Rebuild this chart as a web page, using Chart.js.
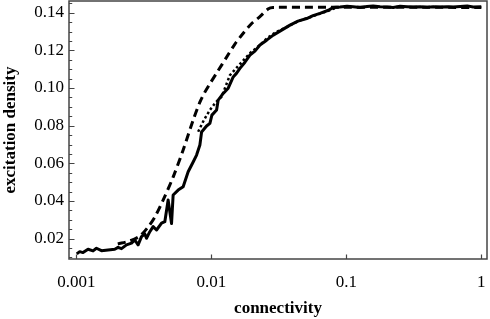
<!DOCTYPE html>
<html>
<head>
<meta charset="utf-8">
<script src="https://cdn.jsdelivr.net/npm/chart.js@4/dist/chart.umd.min.js"></script>
<style>
  html, body { margin: 0; padding: 0; background: #ffffff; }
  #wrap { width: 490px; height: 319px; }
</style>
</head>
<body>
<div id="wrap"><canvas id="c" width="490" height="319"></canvas></div>
<script>
// ---- data ----
const xTickValues = [0.001, 0.01, 0.1, 1];
const xTickLabels = ["0.001", "0.01", "0.1", "1"];
const yTickValues = [0.02, 0.04, 0.06, 0.08, 0.10, 0.12, 0.14];
const yTickLabels = ["0.02", "0.04", "0.06", "0.08", "0.10", "0.12", "0.14"];

// simulation (solid, noisy)
const solidX = [0.001005, 0.001058, 0.001119, 0.001219, 0.001328, 0.001407, 0.001533, 0.001716, 0.001924, 0.002035,
  0.002157, 0.002349, 0.002559, 0.002707, 0.002864, 0.003035, 0.003211, 0.003305, 0.003499, 0.003701,
  0.003923, 0.004272, 0.004519, 0.004781, 0.005067, 0.005207, 0.005671, 0.006178, 0.006728, 0.007328,
  0.007768, 0.008218, 0.008460, 0.009213, 0.009748, 0.010086, 0.010929, 0.011231, 0.012235, 0.013325,
  0.014511, 0.015378, 0.016271, 0.017724, 0.019302, 0.021024, 0.022898, 0.025674, 0.028745, 0.032229,
  0.038226, 0.043832, 0.050838, 0.056623, 0.063799, 0.073553, 0.07966, 0.08981, 0.1012, 0.1121,
  0.1264, 0.1424, 0.1578, 0.1778, 0.2005, 0.2221, 0.2503, 0.2820, 0.3125, 0.3522,
  0.3969, 0.4398, 0.4957, 0.5585, 0.6187, 0.6973, 0.7859, 0.8709, 1.0];
const solidY = [0.0119, 0.0131, 0.0126, 0.0144, 0.0135, 0.0149, 0.0136, 0.0140, 0.0144, 0.0154,
  0.0147, 0.0167, 0.0176, 0.0193, 0.0167, 0.0211, 0.0225, 0.0202, 0.0237, 0.0264,
  0.0246, 0.0282, 0.0290, 0.0405, 0.0280, 0.0432, 0.0458, 0.0476, 0.0555, 0.0607,
  0.0644, 0.0697, 0.0766, 0.0798, 0.0812, 0.0856, 0.0883, 0.0936, 0.0971, 0.0999,
  0.1059, 0.1079, 0.1104, 0.1137, 0.1175, 0.1196, 0.1228, 0.1254, 0.1281, 0.1302,
  0.1334, 0.1355, 0.1369, 0.1384, 0.1396, 0.1413, 0.1427, 0.1430, 0.1434, 0.1432,
  0.1428, 0.1433, 0.1436, 0.1431, 0.1430, 0.1428, 0.1434, 0.1432, 0.1430, 0.1431,
  0.1429, 0.1431, 0.1430, 0.1432, 0.1430, 0.1433, 0.1436, 0.1430, 0.1432];

// theory (dashed)
const dashedX = [0.002025, 0.002485, 0.002949, 0.003396, 0.003810, 0.004389, 0.005207, 0.006178, 0.007328, 0.008218,
  0.008949, 0.009748, 0.011174, 0.012968, 0.014936, 0.017219, 0.019970, 0.022898, 0.026254, 0.028593, 1.0];
const dashedY = [0.0172, 0.0188, 0.0214, 0.0262, 0.0315, 0.0405, 0.0527, 0.0671, 0.0830, 0.0925,
  0.0978, 0.1023, 0.1090, 0.1164, 0.1233, 0.1291, 0.1344, 0.1379, 0.1419, 0.1428, 0.1428];

// second estimate (dotted)
const dottedX = [0.00798, 0.00880, 0.00975, 0.01080, 0.0119, 0.01372, 0.01627, 0.0193, 0.0229, 0.02567,
  0.03010, 0.0361, 0.0438, 0.0538, 0.0638, 0.0735, 0.08245];
const dottedY = [0.0768, 0.0830, 0.0883, 0.0925, 0.0953, 0.1068, 0.1127, 0.1185, 0.1228, 0.1263,
  0.1297, 0.1323, 0.1355, 0.1376, 0.1395, 0.1410, 0.1424];

const X_MIN = 0.000881, X_MAX = 1.102;
const Y_MIN = 0.0092, Y_MAX = 0.1462;

const toPts = (xs, ys) => xs.map((x, i) => ({ x: x, y: ys[i] }));
const SERIF = "'Liberation Serif', 'Times New Roman', serif";
const AXIS_COLOR = '#444444';

const frame = {
  id: 'frame',
  afterDraw(chart) {
    const { ctx, chartArea: a, scales: { x, y } } = chart;
    ctx.save();
    ctx.strokeStyle = AXIS_COLOR;
    ctx.lineWidth = 1.5;
    ctx.strokeRect(a.left, a.top, a.right - a.left, a.bottom - a.top);
    ctx.lineWidth = 1.2;
    ctx.beginPath();
    // y ticks every 0.005, inward
    for (let k = 2; k <= 29; k++) {
      const v = k * 0.005;
      if (v < Y_MIN || v > Y_MAX) continue;
      const py = Math.round(y.getPixelForValue(v)) + 0.5;
      const major = (k % 4 === 0);
      ctx.moveTo(a.left, py);
      ctx.lineTo(a.left + (major ? 5.5 : 3.2), py);
    }
    // x ticks at decades, inward
    xTickValues.forEach(v => {
      const px = Math.round(x.getPixelForValue(v)) + 0.5;
      ctx.moveTo(px, a.bottom);
      ctx.lineTo(px, a.bottom - 4.5);
    });
    ctx.stroke();
    ctx.restore();
  }
};

new Chart(document.getElementById('c'), {
  type: 'scatter',
  data: {
    datasets: [
      { label: 'theory', data: toPts(dashedX, dashedY), showLine: true, borderColor: '#000', borderWidth: 3,
        borderDash: [8, 5], pointRadius: 0, tension: 0.3, fill: false },
      { label: 'estimate', data: toPts(dottedX, dottedY), showLine: true, borderColor: '#000', borderWidth: 2.5,
        borderDash: [2.5, 2.5], pointRadius: 0, tension: 0, fill: false },
      { label: 'simulation', data: toPts(solidX, solidY), showLine: true, borderColor: '#000', borderWidth: 3,
        pointRadius: 0, tension: 0, fill: false, borderJoinStyle: 'round' }
    ]
  },
  options: {
    responsive: false,
    animation: false,
    devicePixelRatio: 1,
    layout: { padding: { top: 1, right: 3, left: 0, bottom: 0 } },
    plugins: { legend: { display: false }, tooltip: { enabled: false } },
    scales: {
      x: {
        type: 'logarithmic',
        min: X_MIN, max: X_MAX,
        afterBuildTicks: s => { s.ticks = xTickValues.map(v => ({ value: v })); },
        afterFit: s => { s.height = 60; s.paddingLeft = 0; s.paddingRight = 0; s.paddingTop = 0; s.paddingBottom = 0; },
        border: { display: false },
        grid: { display: false, drawTicks: false },
        ticks: {
          color: '#000', padding: 13, maxRotation: 0, autoSkip: false,
          font: { family: SERIF, size: 17 },
          callback: (v) => { const i = xTickValues.indexOf(v); return i >= 0 ? xTickLabels[i] : ''; }
        },
        title: { display: true, text: 'connectivity', color: '#000', padding: 0,
          font: { family: SERIF, size: 17, weight: 'bold' } }
      },
      y: {
        type: 'linear',
        min: Y_MIN, max: Y_MAX,
        afterBuildTicks: s => { s.ticks = yTickValues.map(v => ({ value: v })); },
        afterFit: s => { s.width = 69; s.paddingLeft = 0; s.paddingRight = 0; s.paddingTop = 0; s.paddingBottom = 0; },
        border: { display: false },
        grid: { display: false, drawTicks: false },
        ticks: {
          color: '#000', padding: 5, autoSkip: false,
          font: { family: SERIF, size: 17 },
          callback: (v) => { const i = yTickValues.findIndex(t => Math.abs(t - v) < 1e-9); return i >= 0 ? yTickLabels[i] : ''; }
        },
        title: { display: true, text: 'excitation density', color: '#000', padding: 0,
          font: { family: SERIF, size: 17, weight: 'bold' } }
      }
    }
  },
  plugins: [frame]
});
</script>
</body>
</html>
